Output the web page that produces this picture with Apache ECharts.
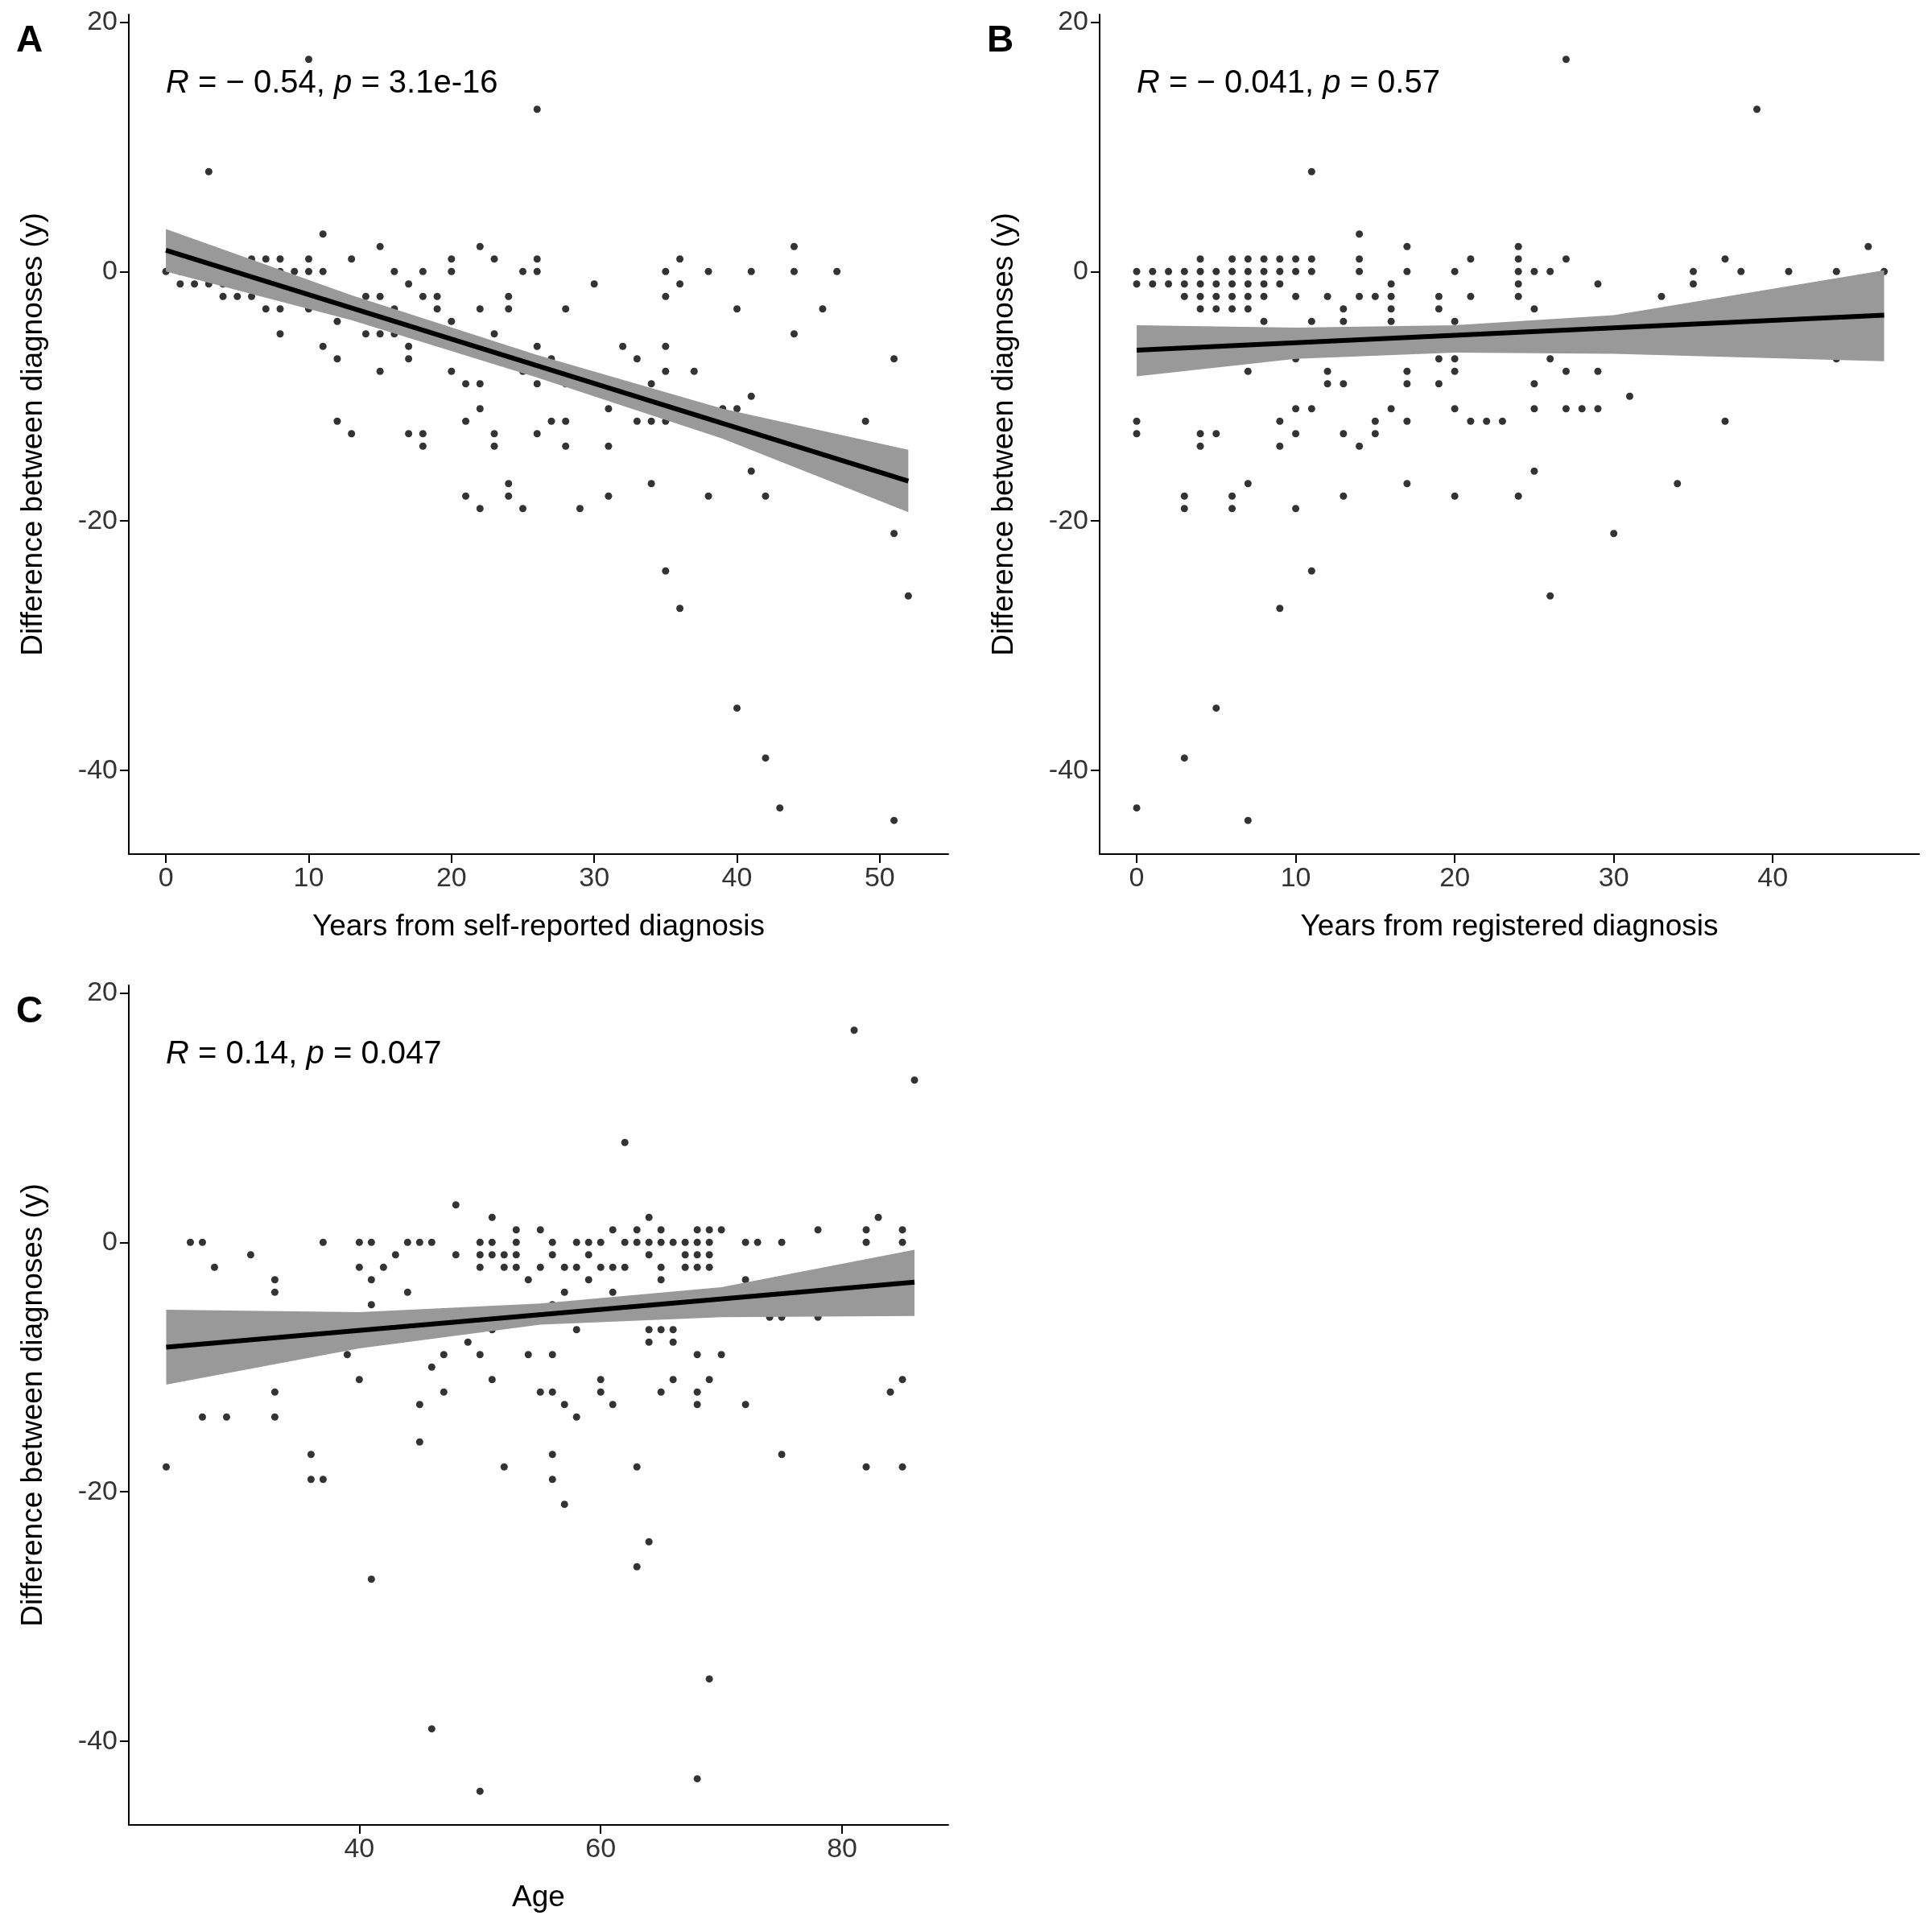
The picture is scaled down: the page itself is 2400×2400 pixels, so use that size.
<!DOCTYPE html>
<html>
<head>
<meta charset="utf-8">
<script src="https://cdn.jsdelivr.net/npm/echarts@6/dist/echarts.min.js"></script>
<style>html,body{margin:0;background:#fff}#c{width:2400px;height:2400px}</style>
</head>
<body>
<div id="c"></div>
<script>
// panel A: years from self-reported diagnosis vs difference
var ptsA = [[0,0],[1,0],[1,-1],[2,0],[2,-1],[3,1],[3,0],[3,-1],[3,8],[4,0],[4,-1],[5,0],[5,1],[5,-1],[5,-2],[4,-2],[6,0],[6,1],[6,-1],[6,-2],[7,0],[7,1],[7,-1],[7,-3],[8,0],[8,1],[8,-2],[8,-3],[8,-5],[9,0],[9,-1],[10,0],[10,1],[10,-2],[10,-3],[10,17],[11,0],[11,3],[11,-6],[12,-4],[12,-7],[12,-12],[13,1],[13,-13],[14,-2],[14,-5],[15,2],[15,-2],[15,-4],[15,-5],[15,-8],[16,0],[16,-3],[16,-5],[17,-1],[17,-4],[17,-6],[17,-7],[17,-13],[18,0],[18,-2],[18,-13],[18,-14],[19,-2],[19,-3],[20,1],[20,0],[20,-4],[20,-8],[21,-6],[21,-9],[21,-12],[21,-18],[22,2],[22,-3],[22,-9],[22,-11],[22,-19],[23,1],[23,-5],[23,-13],[23,-14],[24,-2],[24,-3],[24,-17],[24,-18],[25,0],[25,-8],[25,-19],[26,1],[26,0],[26,-6],[26,-9],[26,-13],[26,13],[27,-7],[27,-12],[28,-3],[28,-8],[28,-9],[28,-12],[28,-14],[29,-19],[30,-1],[31,-11],[31,-14],[31,-18],[32,-6],[33,-7],[33,-12],[34,-9],[34,-12],[34,-17],[35,0],[35,-2],[35,-6],[35,-8],[35,-12],[35,-24],[36,1],[36,-1],[36,-11],[36,-27],[37,-8],[38,0],[38,-11],[38,-18],[39,-11],[40,-3],[40,-11],[40,-35],[41,0],[41,-10],[41,-16],[42,-18],[42,-39],[43,-43],[44,2],[44,0],[44,-5],[46,-3],[47,0],[49,-12],[51,-7],[51,-17],[51,-21],[51,-44],[52,-26]];
var fitA = [[0,1.7],[52,-16.8]];
var bandXA = [0,13,26,39,52];
var bandLoA = [0,-3.9,-8.5,-13.4,-19.3];
var bandHiA = [3.4,-1.9,-6.7,-11.0,-14.3];

// panel B: years from registered diagnosis
var ptsB = [[0,0],[0,-1],[0,-12],[0,-13],[0,-43],[1,0],[1,-1],[2,0],[2,-1],[3,0],[3,-1],[3,-2],[3,-5],[3,-18],[3,-19],[3,-39],[4,1],[4,0],[4,-1],[4,-2],[4,-3],[4,-13],[4,-14],[5,0],[5,-1],[5,-2],[5,-3],[5,-6],[5,-7],[5,-13],[5,-35],[6,1],[6,0],[6,-1],[6,-2],[6,-3],[6,-18],[6,-19],[7,1],[7,0],[7,-1],[7,-2],[7,-3],[7,-8],[7,-17],[7,-44],[8,1],[8,0],[8,-1],[8,-2],[8,-4],[9,1],[9,0],[9,-1],[9,-5],[9,-12],[9,-14],[9,-27],[10,1],[10,0],[10,-2],[10,-5],[10,-7],[10,-11],[10,-13],[10,-19],[11,8],[11,1],[11,0],[11,-4],[11,-5],[11,-6],[11,-11],[11,-24],[12,-2],[12,-6],[12,-8],[12,-9],[13,-3],[13,-4],[13,-9],[13,-13],[13,-18],[14,3],[14,1],[14,0],[14,-2],[14,-14],[15,-2],[15,-6],[15,-12],[15,-13],[16,-1],[16,-2],[16,-3],[16,-4],[16,-11],[17,2],[17,0],[17,-8],[17,-9],[17,-12],[17,-17],[18,-5],[19,-2],[19,-3],[19,-7],[19,-9],[20,0],[20,-4],[20,-6],[20,-7],[20,-8],[20,-11],[20,-18],[21,1],[21,-2],[21,-5],[21,-12],[22,-12],[23,-12],[24,2],[24,1],[24,0],[24,-1],[24,-2],[24,-18],[25,0],[25,-3],[25,-9],[25,-11],[25,-16],[26,0],[26,-6],[26,-7],[26,-26],[27,17],[27,1],[27,-8],[27,-11],[28,-11],[29,-1],[29,-6],[29,-8],[29,-11],[30,-21],[31,-10],[33,-2],[34,-17],[35,0],[35,-1],[37,1],[37,-3],[37,-12],[38,0],[39,13],[39,-5],[41,0],[43,-3],[44,0],[44,-7],[46,2],[47,0]];
var fitB = [[0,-6.3],[47,-3.5]];
var bandXB = [0,10,20,30,47];
var bandLoB = [-8.4,-7.0,-6.5,-6.6,-7.2];
var bandHiB = [-4.3,-4.5,-4.3,-3.5,0.1];

// panel C: age
var ptsC = [[24,-18],[26,0],[27,0],[27,-14],[28,-2],[29,-14],[31,-1],[33,-3],[33,-4],[33,-8],[33,-12],[33,-14],[36,-17],[36,-19],[37,0],[37,-19],[39,-8],[39,-9],[40,-2],[40,0],[40,-11],[41,0],[41,-3],[41,-5],[41,-27],[42,-2],[43,-1],[44,0],[44,-4],[45,0],[45,-6],[45,-13],[45,-16],[46,0],[46,-10],[46,-39],[47,-9],[47,-12],[48,3],[48,-1],[49,-8],[50,0],[50,-1],[50,-2],[50,-9],[50,-44],[51,2],[51,0],[51,-1],[51,-7],[51,-11],[52,-1],[52,-2],[52,-18],[53,1],[53,0],[53,-1],[53,-2],[54,-3],[54,-9],[55,1],[55,-2],[55,-12],[56,0],[56,-1],[56,-5],[56,-6],[56,-9],[56,-12],[56,-17],[56,-19],[57,-2],[57,-4],[57,-13],[57,-21],[58,0],[58,-2],[58,-7],[58,-14],[59,-1],[59,-3],[59,0],[60,0],[60,-2],[60,-11],[60,-12],[61,1],[61,-2],[61,-4],[61,-5],[61,-13],[62,8],[62,0],[62,-2],[62,-6],[63,1],[63,0],[63,-18],[63,-26],[64,2],[64,0],[64,-1],[64,-5],[64,-7],[64,-8],[64,-24],[65,1],[65,0],[65,-2],[65,-3],[65,-7],[65,-12],[66,0],[66,-7],[66,-8],[66,-11],[67,0],[67,-1],[67,-2],[68,1],[68,0],[68,-1],[68,-2],[68,-9],[68,-12],[68,-13],[68,-43],[69,1],[69,0],[69,-1],[69,-2],[69,-5],[69,-11],[69,-35],[70,1],[70,-9],[71,-4],[72,0],[72,-3],[72,-13],[73,0],[74,-6],[75,0],[75,-6],[75,-17],[76,-5],[77,-4],[78,1],[78,-6],[80,-3],[81,-3],[81,17],[82,0],[82,1],[82,-18],[83,2],[84,-12],[85,1],[85,0],[85,-11],[85,-18],[86,13]];
var fitC = [[24,-8.4],[86,-3.2]];
var bandXC = [24,40,55,70,86];
var bandLoC = [-11.4,-8.5,-6.6,-6.0,-5.9];
var bandHiC = [-5.4,-5.6,-4.9,-3.6,-0.6];

var yTicks = [-40,-20,0,20];
var xTicksA = [0,10,20,30,40,50];
var xTicksB = [0,10,20,30,40];
var xTicksC = [40,60,80];
var font = 'Liberation Sans';

var chart = echarts.init(document.getElementById('c'));

function xAxis(i, min, max, ticks, name) {
  return {
    type: 'value', gridIndex: i, min: min, max: max,
    name: name, nameLocation: 'middle', nameGap: 72,
    nameTextStyle: {fontFamily: font, fontSize: 37, color: '#000'},
    splitLine: {show: false},
    axisLine: {onZero: false, lineStyle: {color: '#000', width: 2}},
    axisTick: {length: 11, lineStyle: {color: '#000', width: 2}, customValues: ticks},
    axisLabel: {fontFamily: font, fontSize: 34, color: '#333', margin: 14,
      hideOverlap: false, customValues: ticks}
  };
}
function yAxis(i) {
  return {
    type: 'value', gridIndex: i, min: -46.7, max: 20.6,
    name: 'Difference between diagnoses (y)', nameLocation: 'middle', nameGap: 100,
    nameTextStyle: {fontFamily: font, fontSize: 37, color: '#000'},
    splitLine: {show: false},
    axisLine: {onZero: false, lineStyle: {color: '#000', width: 2}},
    axisTick: {length: 11, lineStyle: {color: '#000', width: 2}, customValues: yTicks},
    axisLabel: {fontFamily: font, fontSize: 34, color: '#333', margin: 14,
      hideOverlap: false, customValues: yTicks}
  };
}

function panelSeries(i, pts, fit, bx, lo, hi) {
  var band = bx.map(function(x, k) { return [x, lo[k], hi[k]]; });
  return [
    {type: 'scatter', xAxisIndex: i, yAxisIndex: i, data: pts,
      symbolSize: 9, itemStyle: {color: '#000'}, z: 2},
    {type: 'custom', xAxisIndex: i, yAxisIndex: i, data: band, silent: true, z: 3,
      encode: {x: 0, y: [1, 2]},
      renderItem: function(params, api) {
        if (params.dataIndex !== 0) return;
        var top = [], bot = [];
        for (var k = 0; k < band.length; k++) {
          top.push(api.coord([band[k][0], band[k][2]]));
          bot.unshift(api.coord([band[k][0], band[k][1]]));
        }
        return {type: 'polygon', shape: {points: top.concat(bot)},
          style: {fill: '#999999'}};
      }},
    {type: 'line', xAxisIndex: i, yAxisIndex: i, data: fit,
      symbol: 'none', lineStyle: {color: '#000', width: 6}, z: 4}
  ];
}

function annot(left, top, r, p) {
  return {type: 'text', left: left, top: top, z: 10, style: {
    text: '{i|R} = ' + r + ', {i|p} = ' + p,
    font: '40px "Liberation Sans"', fill: '#000',
    rich: {i: {fontStyle: 'italic', fontFamily: font, fontSize: 40}}
  }};
}
function letter(ch, left, top) {
  return {type: 'text', left: left, top: top, style: {
    text: ch, font: 'bold 46px "Liberation Sans"', fill: '#000'}};
}

chart.setOption({
  animation: false,
  backgroundColor: '#fff',
  grid: [
    {left: 160, top: 18, width: 1018, height: 1043},
    {left: 1366, top: 18, width: 1018, height: 1043},
    {left: 160, top: 1224, width: 1018, height: 1043}
  ],
  xAxis: [
    xAxis(0, -2.6, 54.8, xTicksA, 'Years from self-reported diagnosis'),
    xAxis(1, -2.33, 49.2, xTicksB, 'Years from registered diagnosis'),
    xAxis(2, 20.9, 88.8, xTicksC, 'Age')
  ],
  yAxis: [yAxis(0), yAxis(1), yAxis(2)],
  series: [].concat(
    panelSeries(0, ptsA, fitA, bandXA, bandLoA, bandHiA),
    panelSeries(1, ptsB, fitB, bandXB, bandLoB, bandHiB),
    panelSeries(2, ptsC, fitC, bandXC, bandLoC, bandHiC)
  ),
  graphic: [
    letter('A', 20, 28), letter('B', 1226, 28), letter('C', 20, 1234),
    annot(206, 84, '\u2212 0.54', '3.1e-16'),
    annot(1412, 84, '\u2212 0.041', '0.57'),
    annot(206, 1290, '0.14', '0.047')
  ]
});
</script>
</body>
</html>
